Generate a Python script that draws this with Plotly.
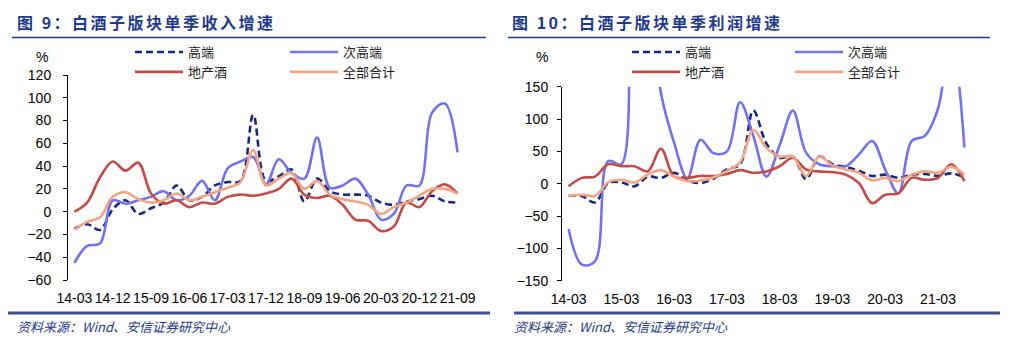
import plotly.graph_objects as go

# page body has an 8px default margin: draw in page pixels, shifted by it
OFF = 8
W, H = 1012 - 2 * OFF, 356 - 2 * OFF

quarters = ["14-03", "14-06", "14-09", "14-12", "15-03", "15-06", "15-09", "15-12",
            "16-03", "16-06", "16-09", "16-12", "17-03", "17-06", "17-09", "17-12",
            "18-03", "18-06", "18-09", "18-12", "19-03", "19-06", "19-09", "19-12",
            "20-03", "20-06", "20-09", "20-12", "21-03", "21-06", "21-09"]
left_ticks = ["14-03", "14-12", "15-09", "16-06", "17-03", "17-12", "18-09",
              "19-06", "20-03", "20-12", "21-09"]
right_ticks = ["14-03", "15-03", "16-03", "17-03", "18-03", "19-03", "20-03", "21-03"]

series_names = ["高端", "次高端", "地产酒", "全部合计"]

# 图9 单季收入增速 (%)
rev_high = [-15, -11, -16, 2, 10, -2, 3, 8, 23, 10, 13, 23, 26, 27, 85, 27,
            31, 37, 9, 29, 18, 15, 15, 14, 8, 6, 9, 11, 14, 9, 8]
rev_sub = [-45, -30, -28, 10, 7, 10, 13, 18, 10, 14, 27, 10, 38, 44, 48, 24,
           46, 34, 29, 65, 21, 23, 29, 15, -7, -2, 23, 23, 87, 95, 52]
rev_local = [0, 8, 30, 44, 36, 43, 16, 7, 10, 4, 8, 7, 13, 15, 14, 16,
             20, 29, 15, 12, 14, 6, -7, -8, -17, -13, 8, 4, 18, 24, 16]
rev_total = [-16, -9, -5, 13, 17, 11, 8, 10, 16, 10, 13, 17, 21, 26, 54, 23,
             29, 34, 20, 27, 15, 11, 9, 6, -2, 4, 8, 14, 20, 20, 16]

# 图10 单季利润增速 (%)
prof_high = [-19, -19, -29, 1, 2, -4, 11, 9, 17, 5, 1, 8, 22, 30, 113, 62,
             40, 42, 7, 42, 30, 26, 20, 12, 14, 9, 14, 15, 12, 16, 10]
prof_sub = [-70, -125, -120, 35, 30, 330, 300, 140, 63, 8, 68, 47, 50, 126, 74, 11,
            60, 113, 48, 30, 27, 27, 45, 66, 22, -15, 66, 74, 116, 230, 56]
prof_local = [-4, 9, 11, 30, 27, 27, 19, 54, 11, 9, 12, 12, 15, 21, 17, 19,
              27, 40, 22, 19, 18, 14, 1, -30, -17, -15, 9, 6, 9, 30, 4]
prof_total = [-19, -17, -19, 2, 6, 2, 14, 21, 11, 4, 5, 10, 20, 33, 83, 55,
              42, 42, 12, 42, 28, 22, 17, 5, 9, 4, 14, 19, 17, 26, 14]

colors = ["#1B2A78", "#7272EE", "#BF4D49", "#F2A585"]
dashes = ["7px,4px", "solid", "solid", "solid"]

NAVY = "#1F3A8A"
FONT = "Liberation Sans, Arial, Noto Sans CJK SC, sans-serif"
CJK = "Noto Sans CJK SC, sans-serif"


def px_x(v):
    return (v - OFF) / W


def px_y(v):
    return 1 - (v - OFF) / H


fig = go.Figure()

left_data = [rev_high, rev_sub, rev_local, rev_total]
right_data = [prof_high, prof_sub, prof_local, prof_total]
left_leg = ["legend", "legend2", "legend", "legend2"]
right_leg = ["legend3", "legend4", "legend3", "legend4"]

for k in range(4):
    fig.add_trace(go.Scatter(
        x=quarters, y=left_data[k], name=series_names[k], mode="lines",
        line=dict(color=colors[k], width=2.6, dash=dashes[k], shape="spline", smoothing=1),
        xaxis="x", yaxis="y", legend=left_leg[k], hoverinfo="skip"))
for k in range(4):
    fig.add_trace(go.Scatter(
        x=quarters, y=right_data[k], name=series_names[k], mode="lines",
        line=dict(color=colors[k], width=2.6, dash=dashes[k], shape="spline", smoothing=1),
        xaxis="x2", yaxis="y2", legend=right_leg[k], hoverinfo="skip"))

# plot areas (page pixels)
L_x0, L_x1, L_top, L_bot = 68, 464, 75, 280
R_x0, R_x1, R_top, R_bot = 562, 971, 86.7, 280.7
L_zero = L_top + (L_bot - L_top) * 120 / 180
R_zero = R_top + (R_bot - R_top) * 150 / 300

tickfont = dict(family=FONT, size=14, color="#000000")
bound_vals = [i - 0.5 for i in range(len(quarters) + 1)]

fig.update_layout(
    width=W, height=H,
    margin=dict(l=0, r=0, t=0, b=0, autoexpand=False),
    paper_bgcolor="white", plot_bgcolor="rgba(0,0,0,0)",
    showlegend=True,
    xaxis=dict(domain=[px_x(L_x0), px_x(L_x1)], type="category",
               categoryorder="array", categoryarray=quarters,
               range=[-0.5, len(quarters) - 0.5], tickvals=left_ticks,
               showline=False, ticks="", showgrid=False, zeroline=False,
               tickangle=0, tickfont=tickfont, anchor="y", ticklabelstandoff=8),
    yaxis=dict(domain=[px_y(L_bot), px_y(L_top)], range=[-60, 120], dtick=20,
               showline=True, linecolor="#000", linewidth=1, ticks="outside",
               ticklen=4, tickcolor="#000", showgrid=False, zeroline=False,
               tickfont=tickfont, anchor="x", ticklabelstandoff=9),
    xaxis3=dict(overlaying="x", anchor="free", position=px_y(L_zero),
                range=[-0.5, len(quarters) - 0.5], tickvals=bound_vals,
                showticklabels=False, ticks="outside", ticklen=4, tickcolor="#000",
                showline=True, linecolor="#000", linewidth=1,
                showgrid=False, zeroline=False),
    xaxis2=dict(domain=[px_x(R_x0), px_x(R_x1)], type="category",
                categoryorder="array", categoryarray=quarters,
                range=[-0.5, len(quarters) - 0.5], tickvals=right_ticks,
                showline=False, ticks="", showgrid=False, zeroline=False,
                tickangle=0, tickfont=tickfont, anchor="y2", ticklabelstandoff=8),
    yaxis2=dict(domain=[px_y(R_bot), px_y(R_top)], range=[-150, 150], dtick=50,
                showline=True, linecolor="#000", linewidth=1, ticks="outside",
                ticklen=4, tickcolor="#000", showgrid=False, zeroline=False,
                tickfont=tickfont, anchor="x2", ticklabelstandoff=6),
    xaxis4=dict(overlaying="x2", anchor="free", position=px_y(R_zero),
                range=[-0.5, len(quarters) - 0.5], tickvals=bound_vals,
                showticklabels=False, ticks="outside", ticklen=4, tickcolor="#000",
                showline=True, linecolor="#000", linewidth=1,
                showgrid=False, zeroline=False),
)

leg_common = dict(orientation="v", yanchor="top", xanchor="left",
                  bgcolor="rgba(0,0,0,0)", borderwidth=0, itemwidth=48,
                  font=dict(family=CJK, size=13, color="#222"),
                  itemclick=False, itemdoubleclick=False)
leg_y = px_y(37)
fig.update_layout(
    legend=dict(x=px_x(130), y=leg_y, **leg_common),
    legend2=dict(x=px_x(285), y=leg_y, **leg_common),
    legend3=dict(x=px_x(627), y=leg_y, **leg_common),
    legend4=dict(x=px_x(790), y=leg_y, **leg_common),
)

titles = [("图 9：白酒子版块单季收入增速", 15), ("图 10：白酒子版块单季利润增速", 510)]
for text, x0 in titles:
    fig.add_annotation(
        x=px_x(x0), y=px_y(22), xref="paper", yref="paper",
        xanchor="left", yanchor="middle", showarrow=False,
        text='<b><span style="letter-spacing:2.5px">' + text + '</span></b>',
        font=dict(family=CJK, size=16, color=NAVY))

for x0 in (42, 542):
    fig.add_annotation(x=px_x(x0), y=px_y(57), xref="paper", yref="paper",
                       xanchor="center", yanchor="middle", showarrow=False,
                       text="%", font=dict(family=FONT, size=14, color="#000"))

for x0 in (15, 512):
    fig.add_annotation(x=px_x(x0), y=px_y(326), xref="paper", yref="paper",
                       xanchor="left", yanchor="middle", showarrow=False,
                       text="<i>资料来源：Wind、安信证券研究中心</i>",
                       font=dict(family=CJK, size=13, color=NAVY))

# title underlines and bottom rules
for a, b in ((12, 486), (508, 990)):
    fig.add_shape(type="line", xref="paper", yref="paper",
                  x0=px_x(a), x1=px_x(b), y0=px_y(37.5), y1=px_y(37.5),
                  line=dict(color=NAVY, width=1.6))
for a, b in ((8, 490), (514, 1000)):
    fig.add_shape(type="line", xref="paper", yref="paper",
                  x0=px_x(a), x1=px_x(b), y0=px_y(313), y1=px_y(313),
                  line=dict(color="#3E4F9C", width=3))

fig.write_html("out.html")
